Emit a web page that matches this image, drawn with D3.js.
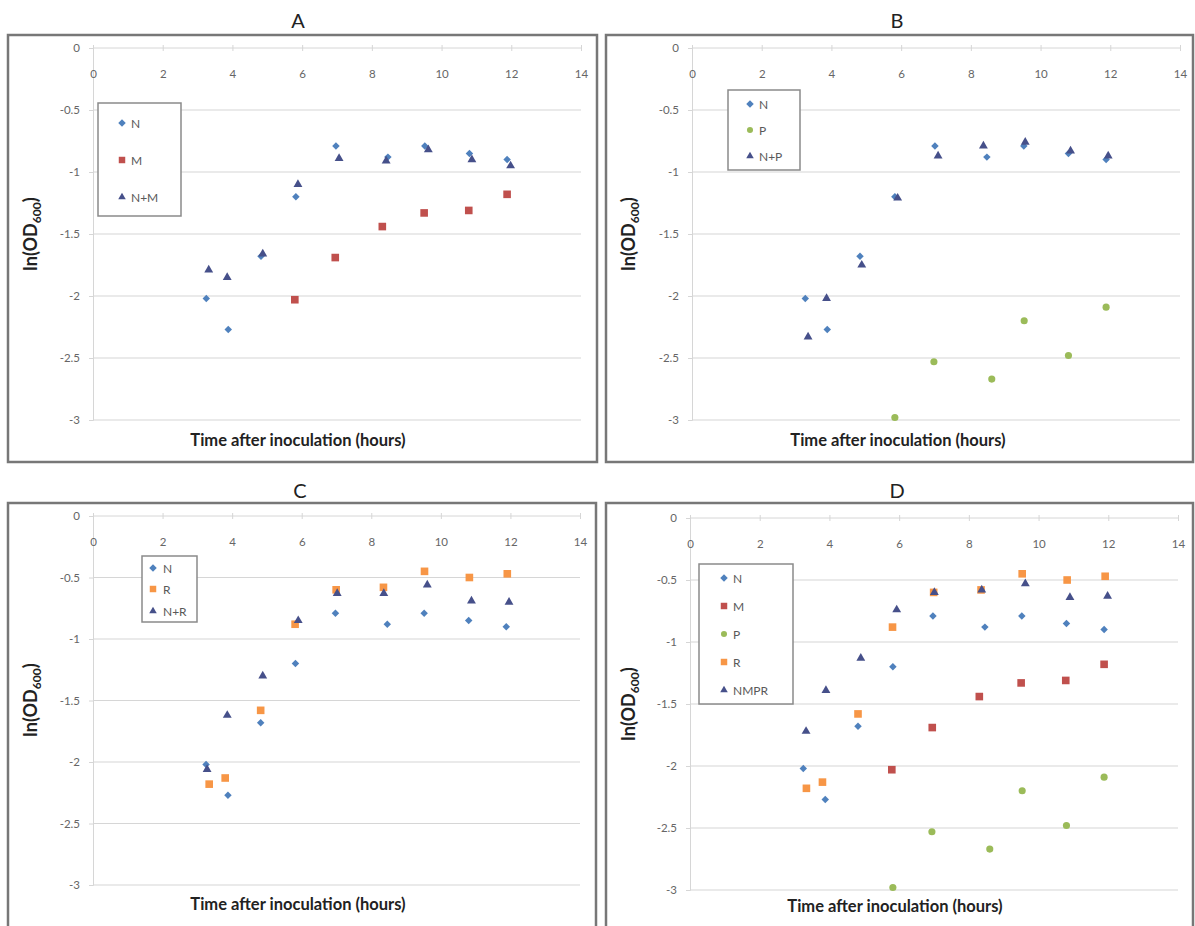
<!DOCTYPE html>
<html><head><meta charset="utf-8">
<script src="https://cdn.jsdelivr.net/npm/d3@7"></script>
<style>body{margin:0;background:#fff} svg{display:block}</style>
</head><body><svg id="c" width="1195" height="926"></svg>
<script>
// ---------- data ----------
const xTicks = [0, 2, 4, 6, 8, 10, 12, 14];
const yTicks = [0, -0.5, -1, -1.5, -2, -2.5, -3];
const yTickLabels = ["0", "-0.5", "-1", "-1.5", "-2", "-2.5", "-3"];
const panelTitles = ["A", "B", "C", "D"];
const xTitle = "Time after inoculation (hours)";

const tN = [3.25, 3.88, 4.82, 5.82, 6.97, 8.46, 9.52, 10.8, 11.88];
const vN = [-2.02, -2.27, -1.68, -1.20, -0.79, -0.88, -0.79, -0.85, -0.90];
const tM = [5.79, 6.95, 8.3, 9.5, 10.78, 11.88];
const vM = [-2.03, -1.69, -1.44, -1.33, -1.31, -1.18];
const tP = [5.82, 6.94, 8.6, 9.53, 10.8, 11.88];
const vP = [-2.98, -2.53, -2.67, -2.20, -2.48, -2.09];
const tR = [3.34, 3.8, 4.82, 5.81, 6.99, 8.35, 9.53, 10.82, 11.91];
const vR = [-2.18, -2.13, -1.58, -0.88, -0.60, -0.58, -0.45, -0.50, -0.47];
const tNM = [3.32, 3.85, 4.87, 5.88, 7.06, 8.41, 9.62, 10.87, 11.98];
const vNM = [-1.79, -1.85, -1.66, -1.10, -0.89, -0.91, -0.82, -0.90, -0.95];
const tNP = [3.33, 3.86, 4.87, 5.9, 7.06, 8.36, 9.56, 10.86, 11.94];
const vNP = [-2.33, -2.02, -1.75, -1.21, -0.87, -0.79, -0.76, -0.83, -0.87];
const tNR = [3.28, 3.86, 4.88, 5.9, 7.02, 8.36, 9.61, 10.88, 11.96];
const vNR = [-2.06, -1.62, -1.30, -0.85, -0.63, -0.63, -0.56, -0.69, -0.70];
const tNMPR = [3.33, 3.9, 4.9, 5.93, 7.01, 8.37, 9.62, 10.9, 11.98];
const vNMPR = [-1.72, -1.39, -1.13, -0.74, -0.60, -0.58, -0.53, -0.64, -0.63];

// ---------- styles ----------
const FONT = "Lato, 'Open Sans', sans-serif";
const seriesDefs = {
  "N":    {t: tN, v: vN, shape: "diamond", color: "#4F81BD"},
  "M":    {t: tM, v: vM, shape: "square", color: "#C0504D"},
  "P":    {t: tP, v: vP, shape: "circle", color: "#9BBB59"},
  "R":    {t: tR, v: vR, shape: "square", color: "#F79646"},
  "N+M":  {t: tNM, v: vNM, shape: "triangle", color: "#46508A"},
  "N+P":  {t: tNP, v: vNP, shape: "triangle", color: "#46508A"},
  "N+R":  {t: tNR, v: vNR, shape: "triangle", color: "#46508A"},
  "NMPR": {t: tNMPR, v: vNMPR, shape: "triangle", color: "#46508A"}
};

const panels = [
  {series: ["N", "M", "N+M"], box: [8, 35, 589, 427], plot: [93, 581, 48, 420], title: [298, 20],
   legend: {x: 98, y: 103, w: 83, h: 113, rows: [20, 57, 94], mx: 24, tx: 33}, xt: [298, 446], yt: [37, 234]},
  {series: ["N", "P", "N+P"], box: [606, 35, 587, 427], plot: [692, 1180, 48, 420], title: [897, 20],
   legend: {x: 728, y: 90, w: 72, h: 80, rows: [14, 40, 66], mx: 22, tx: 31}, xt: [898, 446], yt: [635, 234]},
  {series: ["N", "R", "N+R"], box: [8, 503, 588, 440], plot: [93, 580, 516, 885], title: [300, 490],
   legend: {x: 142, y: 556, w: 55, h: 66, rows: [12, 33, 55], mx: 11, tx: 21}, xt: [298, 910], yt: [37, 700]},
  {series: ["N", "M", "P", "R", "NMPR"], box: [606, 503, 587, 440], plot: [690, 1178, 518, 890], title: [897, 490],
   legend: {x: 699, y: 564, w: 94, h: 140, rows: [14, 42, 70, 98, 126], mx: 25, tx: 34}, xt: [895, 912], yt: [635, 704]}
];

const svg = d3.select("#c");

function symbolPath(shape) {
  if (shape === "diamond") return d3.symbol(d3.symbolSquare, 28)();
  if (shape === "square") return d3.symbol(d3.symbolSquare, 58)();
  if (shape === "circle") return d3.symbol(d3.symbolCircle, 40)();
  return d3.symbol(d3.symbolTriangle, 34)();
}
function symbolTransform(shape, x, y) {
  return `translate(${x},${y})` + (shape === "diamond" ? " rotate(45)" : "");
}

panels.forEach((p, i) => {
  const g = svg.append("g");
  const [bx, by, bw, bh] = p.box;
  g.append("rect").attr("x", bx).attr("y", by).attr("width", bw).attr("height", bh)
    .attr("fill", "#fff").attr("stroke", "#777").attr("stroke-width", 2.5);

  g.append("text").attr("x", p.title[0]).attr("y", p.title[1]).attr("text-anchor", "middle")
    .attr("dominant-baseline", "central").attr("font-family", FONT).attr("font-size", 20)
    .attr("fill", "#222").text(panelTitles[i]);

  const [x0, x1, y0, y1] = p.plot;
  const x = d3.scaleLinear().domain([0, 14]).range([x0, x1]);
  const y = d3.scaleLinear().domain([0, -3]).range([y0, y1]);

  // gridlines
  g.append("g").selectAll("line").data(yTicks.slice(1)).join("line")
    .attr("x1", x0).attr("x2", x1).attr("y1", d => y(d)).attr("y2", d => y(d))
    .attr("stroke", "#d6d6d6").attr("stroke-width", 1.2);

  // y axis (left)
  const yAxis = d3.axisLeft(y).tickValues(yTicks).tickSize(4).tickFormat((d, k) => yTickLabels[k]);
  const ya = g.append("g").attr("transform", `translate(${x0},0)`).call(yAxis);
  ya.select(".domain").attr("stroke", "#d6d6d6");
  ya.selectAll(".tick line").attr("stroke", "#d6d6d6");
  ya.selectAll(".tick text").attr("x", -13).attr("font-family", FONT).attr("font-size", 11.5).attr("fill", "#666");

  // x axis at y=0 (top), labels below
  const xAxis = d3.axisBottom(x).tickValues(xTicks).tickSize(4).tickFormat(d3.format("d"));
  const xa = g.append("g").attr("transform", `translate(0,${y0})`).call(xAxis);
  xa.select(".domain").attr("stroke", "#d6d6d6").attr("d", `M${x0},0H${x1}`);
  xa.selectAll(".tick line").attr("stroke", "#d6d6d6").attr("y1", -3).attr("y2", 3);
  xa.selectAll(".tick text").attr("y", 22).attr("font-family", FONT).attr("font-size", 11.5).attr("fill", "#666");

  // axis titles
  g.append("text").attr("x", p.xt[0]).attr("y", p.xt[1]).attr("text-anchor", "middle")
    .attr("font-family", FONT).attr("font-weight", "bold").attr("font-size", 16.5)
    .attr("fill", "#222").text(xTitle);
  const yt = g.append("text").attr("transform", `translate(${p.yt[0]},${p.yt[1]}) rotate(-90)`)
    .attr("text-anchor", "middle").attr("font-family", FONT).attr("font-weight", "bold")
    .attr("font-size", 18).attr("fill", "#222");
  yt.append("tspan").text("ln(OD");
  yt.append("tspan").attr("font-size", 12).attr("dy", 4).text("600");
  yt.append("tspan").attr("dy", -4).text(")");

  // legend
  const L = p.legend;
  const lg = g.append("g").attr("transform", `translate(${L.x},${L.y})`);
  lg.append("rect").attr("width", L.w).attr("height", L.h).attr("fill", "#fff")
    .attr("stroke", "#8a8a8a").attr("stroke-width", 1.5);
  p.series.forEach((name, k) => {
    const s = seriesDefs[name];
    lg.append("path").attr("d", symbolPath(s.shape)).attr("fill", s.color)
      .attr("transform", symbolTransform(s.shape, L.mx, L.rows[k]) + (s.shape === "diamond" ? "" : " scale(0.85)"));
    lg.append("text").attr("x", L.tx).attr("y", L.rows[k]).attr("dominant-baseline", "central")
      .attr("font-family", FONT).attr("font-size", 12).attr("fill", "#595959").text(name);
  });

  // points
  p.series.forEach(name => {
    const s = seriesDefs[name];
    const pts = s.t.map((t, k) => [t, s.v[k]]);
    g.append("g").selectAll("path").data(pts).join("path")
      .attr("d", symbolPath(s.shape)).attr("fill", s.color)
      .attr("transform", d => symbolTransform(s.shape, x(d[0]), y(d[1])));
  });
});
</script>
</body></html>
